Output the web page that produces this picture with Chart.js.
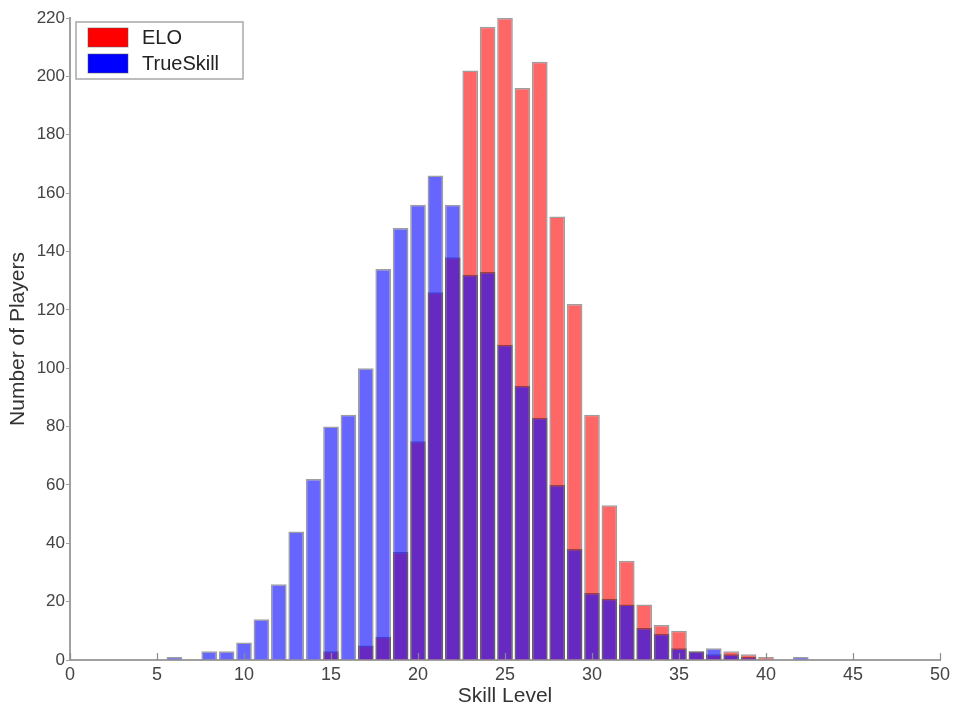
<!DOCTYPE html>
<html><head><meta charset="utf-8">
<script src="https://cdn.jsdelivr.net/npm/chart.js@4/dist/chart.umd.min.js"></script>
<style>html,body{margin:0;padding:0;background:#fff}#wrap{width:957px;height:712px;position:relative}canvas{display:block}</style>
</head><body><div id="wrap"><canvas id="c" width="957" height="712" style="width:957px;height:712px"></canvas></div>
<script>
const skillLevels = [6,7,8,9,10,11,12,13,14,15,16,17,18,19,20,21,22,23,24,25,26,27,28,29,30,31,32,33,34,35,36,37,38,39,40,41,42];
const eloCounts = [0,0,0,0,0,0,0,0,0,3,0,5,8,37,75,126,138,202,217,220,196,205,152,122,84,53,34,19,12,10,3,2,3,2,1,0,0];
const trueSkillCounts = [1,0,3,3,6,14,26,44,62,80,84,100,134,148,156,166,156,132,133,108,94,83,60,38,23,21,19,11,9,4,3,4,2,1,0,0,1];
const seriesNames = ['ELO', 'TrueSkill'];
const xTickValues = [0,5,10,15,20,25,30,35,40,45,50];

function toPoints(vals) {
  const out = [];
  skillLevels.forEach((s, i) => { if (vals[i] > 0) out.push({x: s, y: vals[i]}); });
  return out;
}

const legendPlugin = {
  id: 'boxLegend',
  afterDraw(chart) {
    const ctx = chart.ctx;
    const a = chart.chartArea;
    ctx.save();
    const bx = a.left + 6, by = a.top + 4;
    ctx.fillStyle = '#fff';
    ctx.fillRect(bx, by, 167, 57);
    ctx.strokeStyle = '#a8a8a8';
    ctx.lineWidth = 1.5;
    ctx.strokeRect(bx, by, 167, 57);
    const cols = ['#ff0000', '#0000ff'];
    ctx.font = '20px "Liberation Sans", Arial, sans-serif';
    ctx.textBaseline = 'middle';
    for (let i = 0; i < 2; i++) {
      const y = by + 6 + i * 26;
      ctx.fillStyle = cols[i];
      ctx.fillRect(bx + 12, y, 40, 19);
      ctx.strokeStyle = 'rgba(90,90,90,0.5)';
      ctx.lineWidth = 1;
      ctx.strokeRect(bx + 12, y, 40, 19);
      ctx.fillStyle = '#222';
      ctx.fillText(seriesNames[i], bx + 66, y + 10);
    }
    ctx.restore();
  }
};

const xTickPlugin = {
  id: 'inwardTicks',
  afterDatasetsDraw(chart) {
    const ctx = chart.ctx, xs = chart.scales.x, a = chart.chartArea;
    ctx.save();
    ctx.strokeStyle = '#8a8a8a';
    ctx.lineWidth = 1.2;
    xTickValues.forEach(v => {
      const px = Math.round(xs.getPixelForValue(v)) + 0.5;
      ctx.beginPath();
      ctx.moveTo(px, a.bottom);
      ctx.lineTo(px, a.bottom - 7);
      ctx.stroke();
    });
    ctx.restore();
  }
};

new Chart(document.getElementById('c'), {
  type: 'bar',
  data: {
    datasets: [
      {
        label: seriesNames[0],
        data: toPoints(eloCounts),
        backgroundColor: 'rgba(255,0,0,0.6)',
        borderColor: 'rgba(0,0,0,0.38)',
        borderWidth: 1.5,
        grouped: false,
        order: 1,
        barPercentage: 0.9,
        categoryPercentage: 1
      },
      {
        label: seriesNames[1],
        data: toPoints(trueSkillCounts),
        backgroundColor: 'rgba(0,0,255,0.6)',
        borderColor: 'rgba(0,0,0,0.38)',
        borderWidth: 1.5,
        grouped: false,
        order: 0,
        barPercentage: 0.9,
        categoryPercentage: 1
      }
    ]
  },
  options: {
    responsive: false,
    animation: false,
    devicePixelRatio: 1,
    layout: { padding: { top: 18, right: 17, left: 0, bottom: 0 } },
    plugins: { legend: { display: false }, tooltip: { enabled: false } },
    scales: {
      x: {
        type: 'linear',
        min: 0, max: 50,
        offset: false,
        afterFit(s) { s.height = 52; },
        grid: { display: false, drawTicks: false },
        border: { display: true, color: '#a0a0a0', width: 2 },
        ticks: {
          stepSize: 5,
          autoSkip: false,
          maxRotation: 0,
          padding: 4,
          color: '#444',
          font: { family: '"Liberation Sans", Arial, sans-serif', size: 18 }
        },
        title: {
          display: true,
          text: 'Skill Level',
          color: '#333',
          font: { family: '"Liberation Sans", Arial, sans-serif', size: 21 },
          padding: { top: 0, bottom: 3 }
        }
      },
      y: {
        min: 0, max: 220,
        afterFit(s) { s.width = 70; },
        grid: { display: true, drawOnChartArea: false, drawTicks: true, tickLength: 4, color: '#a0a0a0' },
        border: { display: true, color: '#a0a0a0', width: 2 },
        ticks: {
          stepSize: 20,
          padding: 1,
          color: '#444',
          font: { family: '"Liberation Sans", Arial, sans-serif', size: 17 }
        },
        title: {
          display: true,
          text: 'Number of Players',
          color: '#333',
          font: { family: '"Liberation Sans", Arial, sans-serif', size: 21 },
          padding: { top: 6, bottom: 0 }
        }
      }
    }
  },
  plugins: [legendPlugin, xTickPlugin]
});
</script>
</body></html>
